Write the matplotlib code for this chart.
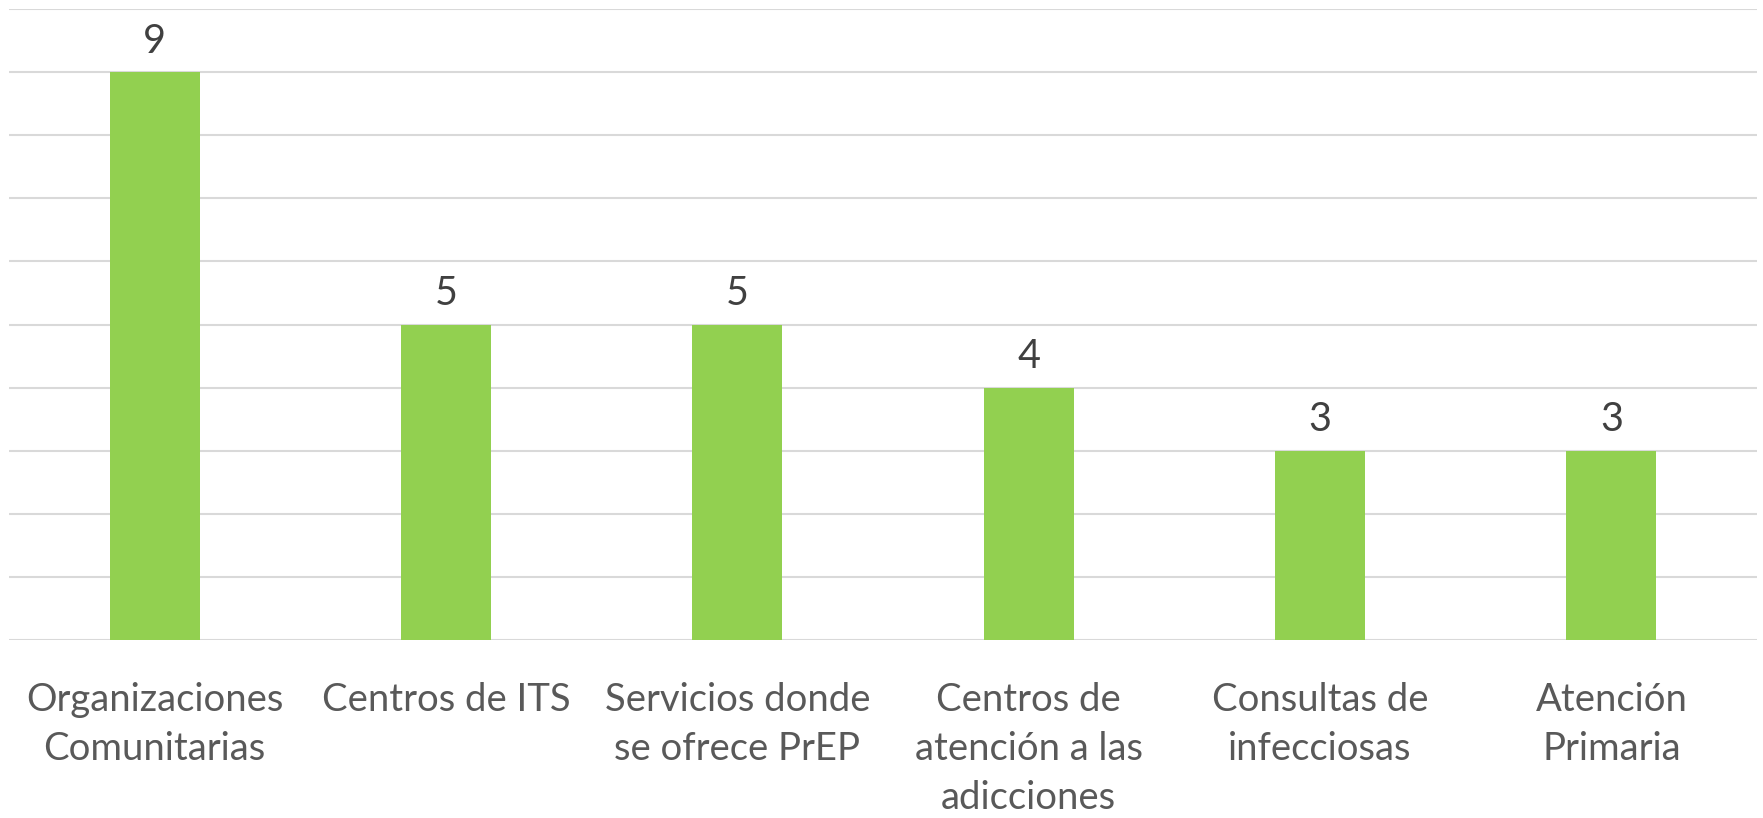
import matplotlib
matplotlib.use("Agg")
import matplotlib.pyplot as plt

categories = [
    "Organizaciones\nComunitarias",
    "Centros de ITS",
    "Servicios donde\nse ofrece PrEP",
    "Centros de\natención a las\nadicciones",
    "Consultas de\ninfecciosas",
    "Atención\nPrimaria",
]
values = [9, 5, 5, 4, 3, 3]

plt.rcParams["font.family"] = ["Lato", "DejaVu Sans"]

fig = plt.figure(figsize=(17.63, 8.18), dpi=100)
ax = fig.add_axes([9 / 1763, 178 / 818, 1748 / 1763, 631 / 818])

x = range(len(values))
bars = ax.bar(x, values, width=0.31, color="#92d050", zorder=3)

for rect, v in zip(bars, values):
    ax.annotate(str(v), (rect.get_x() + rect.get_width() / 2, v),
                xytext=(0, 9), textcoords="offset points",
                ha="center", va="bottom", fontsize=28.5, color="#404040")

ax.set_xlim(-0.5, len(values) - 0.5)
ax.set_ylim(0, 10)
ax.set_yticks(range(0, 11))
ax.yaxis.grid(True, color="#d9d9d9", linewidth=1.5, zorder=0)
ax.set_xticks(list(x))
ax.set_xticklabels(categories, fontsize=27.5, color="#595959", linespacing=1.45)
ax.tick_params(axis="x", length=0, pad=30)
ax.tick_params(axis="y", length=0, labelleft=False)
for s in ax.spines.values():
    s.set_visible(False)

fig.savefig("out.png", dpi=100)
